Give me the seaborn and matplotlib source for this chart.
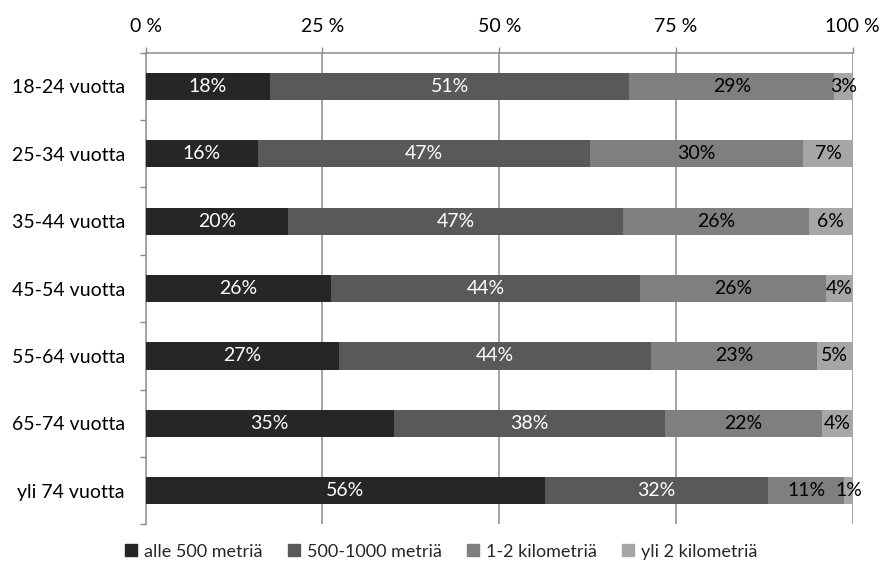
import matplotlib
matplotlib.use("Agg")
import matplotlib.pyplot as plt
from matplotlib.lines import Line2D
import numpy as np
import pandas as pd
import seaborn as sns

# Age groups (top to bottom) and share of respondents per distance class (%)
age_groups = ["18-24 vuotta", "25-34 vuotta", "35-44 vuotta", "45-54 vuotta",
              "55-64 vuotta", "65-74 vuotta", "yli 74 vuotta"]
series_names = ["alle 500 metriä", "500-1000 metriä", "1-2 kilometriä", "yli 2 kilometriä"]
alle_500 = [17.6, 15.9, 20.1, 26.2, 27.3, 35.1, 56.4]
m500_1000 = [50.8, 46.9, 47.4, 43.7, 44.2, 38.4, 31.6]
km1_2 = [29.0, 30.2, 26.3, 26.3, 23.4, 22.1, 10.8]
yli_2 = [2.6, 7.0, 6.2, 3.8, 5.1, 4.4, 1.2]
x_ticks = [0, 25, 50, 75, 100]
x_tick_labels = ["0 %", "25 %", "50 %", "75 %", "100 %"]

colors = ["#262626", "#595959", "#7f7f7f", "#a6a6a6"]
label_colors = ["white", "white", "black", "black"]
grid_color = "#8c8c8c"
FS = 14

sns.set_theme(style="white")
plt.rcParams["font.family"] = ["Lato", "DejaVu Sans"]

values = np.array([alle_500, m500_1000, km1_2, yli_2])
cum = values.cumsum(axis=0)
df = pd.DataFrame({"group": age_groups})
for i, name in enumerate(series_names):
    df[name + "_end"] = cum[i]

fig = plt.figure(figsize=(8.81, 5.67), dpi=100)
ax = fig.add_axes([0.1654, 0.0753, 0.8026, 0.8317])

# Stacked bars: draw cumulative totals from the outermost segment inward
for i in range(len(series_names) - 1, -1, -1):
    sns.barplot(data=df, x=series_names[i] + "_end", y="group", orient="h",
                color=colors[i], saturation=1, width=0.405, ax=ax,
                edgecolor="none", linewidth=0, zorder=3)

# Segment labels
for i in range(len(series_names)):
    starts = cum[i] - values[i]
    for j, v in enumerate(values[i]):
        ax.text(starts[j] + v / 2, j, f"{v:.0f}%", ha="center", va="center",
                color=label_colors[i], fontsize=FS, zorder=5)

ax.set_xlim(0, 100)
ax.set_ylim(len(age_groups) - 0.5, -0.5)
ax.set_xlabel("")
ax.set_ylabel("")

# Percent axis on top
ax.xaxis.tick_top()
ax.set_xticks(x_ticks)
ax.set_xticklabels(x_tick_labels)
ax.tick_params(axis="x", which="major", top=True, bottom=False, length=4.5,
               width=1, color=grid_color, pad=8, labelsize=FS, labelcolor="black")

# Category axis: labels at centres, tick marks at group boundaries
ax.set_yticks(range(len(age_groups)))
ax.set_yticklabels(age_groups)
ax.set_yticks(np.arange(-0.5, len(age_groups), 1.0), minor=True)
ax.tick_params(axis="y", which="major", left=False, length=0, pad=15,
               labelsize=FS, labelcolor="black")
ax.tick_params(axis="y", which="minor", left=True, length=4.5, width=1,
               color=grid_color)

for x in x_ticks[1:]:
    ax.axvline(x, color=grid_color, lw=1.1, zorder=1)

for side in ["bottom", "right"]:
    ax.spines[side].set_visible(False)
for side in ["top", "left"]:
    ax.spines[side].set_visible(True)
    ax.spines[side].set_color(grid_color)
    ax.spines[side].set_linewidth(1.1)
ax.grid(False)

handles = [Line2D([0], [0], marker="s", linestyle="none", markersize=8.5,
                  markerfacecolor=c, markeredgecolor=c) for c in colors]
fig.legend(handles, series_names, loc="center", bbox_to_anchor=(0.5, 0.027),
           ncol=4, frameon=False, fontsize=13, handletextpad=0.3,
           columnspacing=1.3, handlelength=0.85)

fig.savefig("out.png", dpi=100)
